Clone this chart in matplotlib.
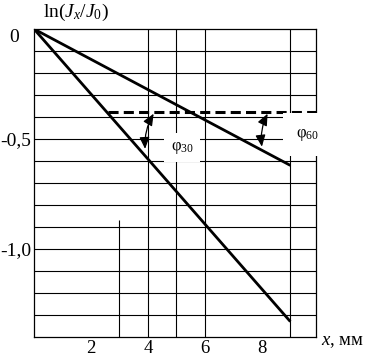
import matplotlib
matplotlib.use("Agg")
import matplotlib.pyplot as plt
from matplotlib.patches import FancyArrowPatch
from matplotlib.transforms import ScaledTranslation

# measured attenuation lines, ln(Jx/J0) vs x (mm)
x_line = [0.0, 9.0]
ln_phi30 = [0.0, -1.33]
ln_phi60 = [0.0, -0.62]

# dashed threshold level
x_thr = [2.6, 9.9]
ln_thr = [-0.375, -0.375]

# angle markers (start, end) in data units
arrow30 = [(4.2, -0.385), (3.9, -0.545)]
arrow60 = [(8.2, -0.385), (8.0, -0.535)]

grid_y = [-1.3, -1.2, -1.1, -1.0, -0.9, -0.8, -0.7, -0.6, -0.5, -0.4, -0.3, -0.2, -0.1]
grid_x = [4, 5, 6, 9]

xticks = [2, 4, 6, 8]
yticks = [0.0, -0.5, -1.0]
ytick_labels = ["0", "-0,5", "-1,0"]

plt.rcParams["font.family"] = ["Liberation Serif", "DejaVu Serif"]
plt.rcParams["mathtext.fontset"] = "custom"
plt.rcParams["mathtext.rm"] = "Liberation Serif"
plt.rcParams["mathtext.it"] = "Liberation Serif:italic"

fig = plt.figure(figsize=(3.66, 3.58), dpi=100)
W, H = 366, 358
ax = fig.add_axes([34 / W, 21 / H, (316 - 34) / W, (337 - 29) / H])
ax.set_xlim(0, 9.9)
ax.set_ylim(-1.4, 0)

ax.hlines(grid_y, 0, 9.9, color="black", lw=0.8, zorder=1)
ax.vlines(grid_x, -1.4, 0, color="black", lw=0.8, zorder=1)
ax.vlines(3, -1.4, -0.87, color="black", lw=0.8, zorder=1)

ax.plot(x_line, ln_phi30, color="black", lw=2.0, zorder=2, solid_capstyle="butt")
ax.plot(x_line, ln_phi60, color="black", lw=2.0, zorder=2, solid_capstyle="butt")
ax.plot(x_thr, ln_thr, color="black", lw=2.2, dashes=(3.3, 1.7), zorder=2, clip_on=False)

for (p0, p1) in (arrow30, arrow60):
    arr = FancyArrowPatch(p0, p1, arrowstyle="<|-|>,head_length=7,head_width=3",
                          connectionstyle="arc3,rad=0.15", color="black", lw=0.9,
                          shrinkA=0, shrinkB=0, zorder=4)
    ax.add_patch(arr)

ax.text(5.2, -0.54, r"φ$_{30}$", fontsize=12, ha="center", va="center", zorder=3,
        bbox=dict(boxstyle="square,pad=0.4", fc="white", ec="none"))
ax.text(9.6, -0.48, r"φ$_{60}$", fontsize=12, ha="center", va="center", zorder=3,
        clip_on=False, bbox=dict(boxstyle="square,pad=0.8", fc="white", ec="none"))

for s in ax.spines.values():
    s.set_linewidth(0.9)
    s.set_zorder(2.5)

ax.set_xticks(xticks)
ax.set_xticklabels([str(v) for v in xticks])
ax.set_yticks(yticks)
ax.set_yticklabels(ytick_labels)
ax.tick_params(length=0, labelsize=14, pad=2)
ax.tick_params(axis="x", labelsize=13.5, pad=2.5)
lab0 = ax.get_yticklabels()[0]
lab0.set_transform(lab0.get_transform() + ScaledTranslation(-12 / 100, -7 / 100, fig.dpi_scale_trans))

fig.text(76 / W, 1 - 12 / H, r"ln($J_x/J_0$)", fontsize=14, ha="center", va="center")
fig.text(321 / W, 1 - 341 / H, r"$x$, мм", fontsize=13.5, ha="left", va="center")

fig.savefig("out.png", dpi=100)
